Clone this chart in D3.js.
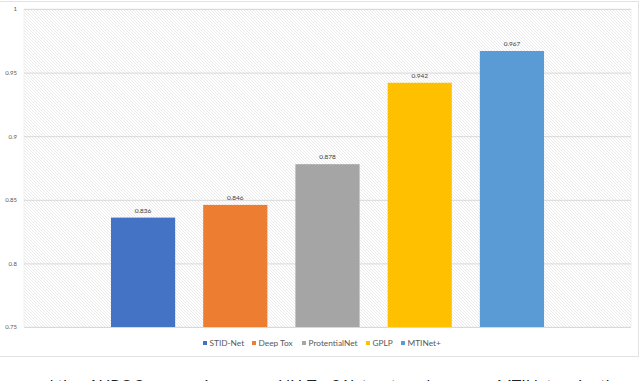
<!DOCTYPE html>
<meta charset="utf-8">
<style>
body { margin: 0; background: #fff; overflow: hidden; }
svg { display: block; }
text { font-family: Lato, "Open Sans", sans-serif; }
</style>
<svg width="640" height="381"></svg>
<script src="https://d3js.org/d3.v7.min.js"></script>
<script>

// values
const methods = ["STID-Net", "Deep Tox", "ProtentialNet", "GPLP", "MTINet+"];
const auroc = [0.836, 0.846, 0.878, 0.942, 0.967];
const colours = ["#4472c4", "#ed7d31", "#a5a5a5", "#ffc000", "#5b9bd5"];
const yTicks = [0.75, 0.8, 0.85, 0.9, 0.95, 1];

var svg = d3.select("svg");

var plot = { left: 24, right: 631, top: 9, bottom: 327 };

var x = d3.scaleBand()
  .domain(methods)
  .range([plot.left, plot.right])
  .paddingInner(0.304)
  .paddingOuter(0.943);

var y = d3.scaleLinear()
  .domain([0.75, 1])
  .range([plot.bottom, plot.top]);

var colour = d3.scaleOrdinal().domain(methods).range(colours);

// hatched plot background
var defs = svg.append("defs");
var pat = defs.append("pattern")
  .attr("id", "hatch")
  .attr("patternUnits", "userSpaceOnUse")
  .attr("width", 3)
  .attr("height", 3);
pat.append("rect").attr("width", 3).attr("height", 3).attr("fill", "#fff");
pat.append("path")
  .attr("d", "M-1,-1 L4,4 M-1,2 L1,4 M2,-1 L4,1")
  .attr("stroke", "#e6e6e6")
  .attr("stroke-width", 0.8);

// outer frame
svg.append("rect")
  .attr("x", -1).attr("y", 1.5)
  .attr("width", 639.5).attr("height", 355)
  .attr("fill", "#fff")
  .attr("stroke", "#e3e3e3");

svg.append("rect")
  .attr("x", plot.left).attr("y", plot.top)
  .attr("width", plot.right - plot.left).attr("height", plot.bottom - plot.top)
  .attr("fill", "url(#hatch)")
  .attr("stroke", "#e6e6e6")
  .attr("stroke-width", 0.6);

// gridlines + y axis labels
svg.append("g")
  .attr("transform", "translate(" + plot.left + ",0)")
  .call(d3.axisLeft(y).tickValues(yTicks).tickSize(-(plot.right - plot.left)).tickPadding(7).tickFormat(d3.format("")))
  .call(g => g.select(".domain").remove())
  .call(g => g.selectAll("line").attr("stroke", "#d9d9d9"))
  .call(g => g.selectAll("text").attr("fill", "#595959").attr("font-size", "6px"));

// bars
svg.append("g")
  .selectAll("rect")
  .data(methods)
  .enter().append("rect")
    .attr("x", function(d) { return x(d); })
    .attr("y", function(d, i) { return y(auroc[i]); })
    .attr("width", x.bandwidth())
    .attr("height", function(d, i) { return y(0.75) - y(auroc[i]); })
    .attr("fill", function(d) { return colour(d); });

// data labels
svg.append("g")
  .selectAll("text")
  .data(methods)
  .enter().append("text")
    .attr("x", function(d) { return x(d) + x.bandwidth() / 2; })
    .attr("y", function(d, i) { return y(auroc[i]) - 5; })
    .attr("text-anchor", "middle")
    .attr("fill", "#404040")
    .attr("font-size", "6.5px")
    .text(function(d, i) { return auroc[i]; });

// legend
var legendX = [203, 252, 302, 366, 401];
var legend = svg.append("g").selectAll("g")
  .data(methods)
  .enter().append("g")
    .attr("transform", function(d, i) { return "translate(" + legendX[i] + ",343)"; });
legend.append("rect")
  .attr("x", 0).attr("y", -2)
  .attr("width", 4).attr("height", 4)
  .attr("fill", function(d) { return colour(d); });
legend.append("text")
  .attr("x", 6.5).attr("dy", "0.35em")
  .attr("fill", "#595959")
  .attr("font-size", "8.3px")
  .text(function(d) { return d; });

// caption underneath, cut off by the picture edge
var cap = svg.append("text")
  .attr("y", 391)
  .attr("fill", "#222")
  .attr("font-family", "'Liberation Serif', serif")
  .attr("font-size", "16px");
[["ed the", 36], ["AUROC", 88], ["comparison on", 152], ["NU-Tox21", 278],
 ["dataset, and", 345], ["MTINet+", 497], ["gains", 562], ["the", 600]].forEach(function(p) {
  cap.append("tspan").attr("x", p[1]).text(p[0]);
});

</script>
